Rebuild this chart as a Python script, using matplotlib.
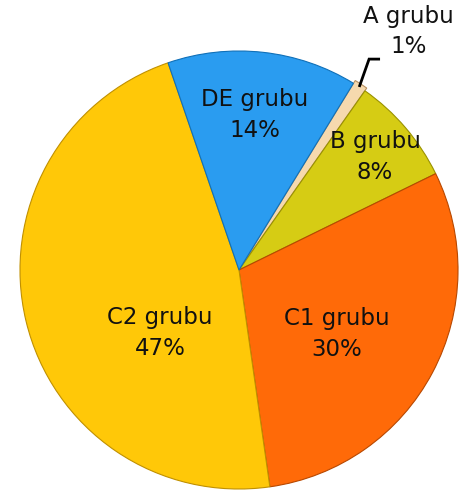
import numpy as np
import matplotlib.pyplot as plt

# gruplar ve yüzdeleri (saat yönünde, A grubundan başlayarak)
groups = ['A grubu', 'B grubu', 'C1 grubu', 'C2 grubu', 'DE grubu']
shares = [1, 8, 30, 47, 14]
colors = ['#F6D9AE', '#D6CC14', '#FF6A08', '#FFC808', '#2A9CF0']
edges = ['#B89060', '#9A9200', '#B84800', '#C09000', '#1070B8']

fig = plt.figure(figsize=(4.6, 4.91), dpi=100)
ax = fig.add_axes([0, 0, 1, 1])

wedges, _ = ax.pie(shares, colors=colors, startangle=58.5, counterclock=False,
                   explode=[0.015, 0, 0, 0, 0], radius=1.0,
                   wedgeprops=dict(linewidth=0.8))
for w, ec in zip(wedges, edges):
    w.set_edgecolor(ec)

# etiket konumları (x, y) - eksen birimlerinde, pasta yarıçapı = 1
label_pos = {
    'A grubu': (0.775, 1.09),
    'B grubu': (0.621, 0.516),
    'C1 grubu': (0.447, -0.292),
    'C2 grubu': (-0.360, -0.288),
    'DE grubu': (0.073, 0.708),
}
for g, s, w in zip(groups, shares, wedges):
    x, y = label_pos[g]
    ax.text(x, y, f'{g}\n{s}%', ha='center', va='center', fontsize=16.5,
            color='#111111', linespacing=1.42)

# A grubu için kılavuz çizgi
wa = wedges[0]
mid = np.radians((wa.theta1 + wa.theta2) / 2)
x0, y0 = np.cos(mid), np.sin(mid)
ax.plot([x0, 0.594, 0.644], [y0, 0.963, 0.963], color='black', lw=2,
        solid_capstyle='butt', solid_joinstyle='miter')

ax.set_xlim(-1.0913, 1.0091)
ax.set_ylim(-1.0091, 1.2329)
ax.set_aspect('auto')
ax.axis('off')

fig.savefig('out.png', dpi=100)
